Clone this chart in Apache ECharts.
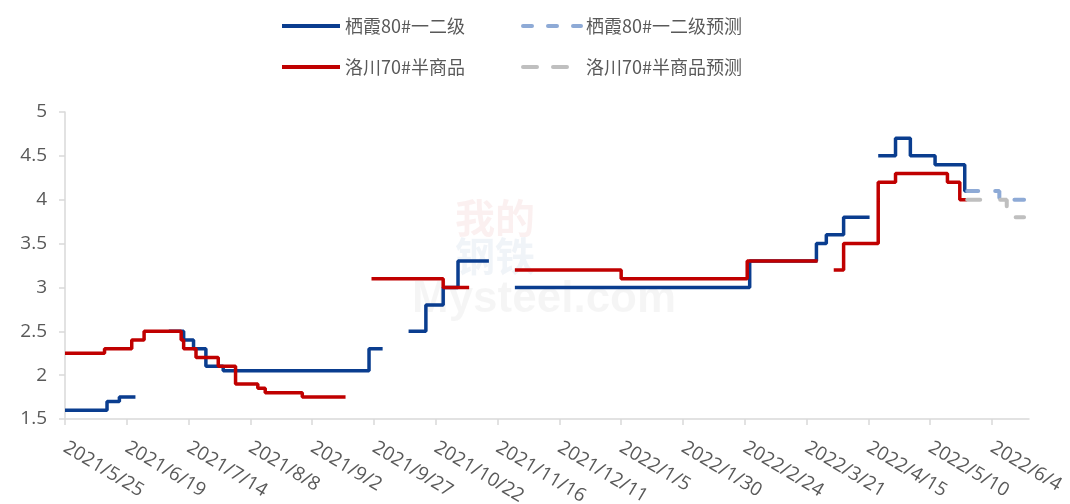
<!DOCTYPE html>
<html>
<head>
<meta charset="utf-8">
<script src="https://cdn.jsdelivr.net/npm/echarts@6/dist/echarts.min.js"></script>
<style>
html,body{margin:0;padding:0;background:#fff;}
#main{width:1070px;height:504px;}
</style>
</head>
<body>
<div id="main"></div>
<script>
// ---- data ----
const tickLabels = ['2021/5/25','2021/6/19','2021/7/14','2021/8/8','2021/9/2','2021/9/27','2021/10/22','2021/11/16','2021/12/11','2022/1/5','2022/1/30','2022/2/24','2022/3/21','2022/4/15','2022/5/10','2022/6/4'];
const axisStart = '2021/5/25';
const axisEnd = '2022/6/19';

// step series: [date, value] = value holds from that date; null = gap
const qixia = [
  ['2021/5/25',1.6],['2021/6/11',1.7],['2021/6/16',1.75],['2021/6/22',1.75], null,
  ['2021/7/6',2.5],['2021/7/12',2.4],['2021/7/16',2.3],['2021/7/21',2.1],['2021/7/28',2.05],['2021/9/25',2.3],['2021/9/30',2.3], null,
  ['2021/10/11',2.5],['2021/10/18',2.8],['2021/10/25',3.0],['2021/10/31',3.3],['2021/11/12',3.3], null,
  ['2021/11/23',3.0],['2022/2/26',3.3],['2022/3/25',3.5],['2022/3/29',3.6],['2022/4/5',3.8],['2022/4/15',3.8], null,
  ['2022/4/19',4.5],['2022/4/26',4.7],['2022/5/2',4.5],['2022/5/12',4.4],['2022/5/24',4.1],['2022/5/25',4.1]
];
const qixiaForecast = [['2022/5/25',4.1],['2022/6/7',4.0],['2022/6/17',4.0]];
const luochuan = [
  ['2021/5/25',2.25],['2021/6/10',2.3],['2021/6/21',2.4],['2021/6/26',2.5],['2021/7/11',2.4],['2021/7/12',2.3],['2021/7/17',2.2],['2021/7/26',2.1],['2021/8/2',1.9],['2021/8/11',1.85],['2021/8/14',1.8],['2021/8/29',1.75],['2021/9/15',1.75], null,
  ['2021/9/26',3.1],['2021/10/25',3.0],['2021/11/4',3.0], null,
  ['2021/11/23',3.2],['2022/1/5',3.1],['2022/2/25',3.3],['2022/3/25',3.3], null,
  ['2022/4/1',3.2],['2022/4/5',3.5],['2022/4/19',4.2],['2022/4/26',4.3],['2022/5/17',4.2],['2022/5/22',4.0],['2022/5/25',4.0]
];
const luochuanForecast = [['2022/5/25',4.0],['2022/6/10',3.8],['2022/6/17',3.8]];

const names = ['栖霞80#一二级','栖霞80#一二级预测','洛川70#半商品','洛川70#半商品预测'];
const yTicks = {min:1.5, max:5, interval:0.5};

// ---- helpers ----
function parse(s){ const p=s.split('/').map(Number); return Date.UTC(p[0],p[1]-1,p[2]); }
const t0 = parse(axisStart);
function toDay(s){ return Math.round((parse(s)-t0)/86400000); }
function fmt(day){ const d=new Date(t0+Math.round(day)*86400000); return d.getUTCFullYear()+'/'+(d.getUTCMonth()+1)+'/'+d.getUTCDate(); }
function build(arr){
  const out=[];
  arr.forEach((p,i)=>{
    if(p===null){ out.push([toDay(arr[i-1][0])+0.5,'-']); }
    else out.push([toDay(p[0]),p[1]]);
  });
  return out;
}
const tickDays = tickLabels.map(toDay);

const chart = echarts.init(document.getElementById('main'), null, {renderer:'canvas'});
const txt = '#595959';
const axisFont = '"Open Sans", "Liberation Sans", sans-serif';
function legendAt(name, left, top, line){
  return {data:[name], left:left, top:top, padding:0, itemWidth:58, itemHeight:14, itemGap:10,
    itemStyle:{opacity:0}, lineStyle:line,
    textStyle:{color:txt, fontSize:18, fontFamily:'"Noto Sans CJK SC", sans-serif'}};
}
chart.setOption({
  animation:false,
  backgroundColor:'#ffffff',
  legend:[
    legendAt(names[0], 280, 17, {width:4}),
    legendAt(names[1], 521, 17, {width:4, type:[9,16], cap:'round'}),
    legendAt(names[2], 280, 58, {width:4}),
    legendAt(names[3], 521, 58, {width:4, type:[14,16], cap:'round'})
  ],
  graphic:[
    {type:'text', left:455, top:198, style:{text:'我的', fontSize:40, fontWeight:'bold', fill:'rgba(192,0,0,0.06)', fontFamily:'"Noto Sans CJK SC"'}},
    {type:'text', left:455, top:236, style:{text:'钢铁', fontSize:40, fontWeight:'bold', fill:'rgba(0,61,143,0.06)', fontFamily:'"Noto Sans CJK SC"'}},
    {type:'text', left:412, top:278, style:{text:'Mysteel.com', fontSize:44, fontWeight:'bold', fill:'rgba(0,0,0,0.04)', fontFamily:'"Liberation Sans"'}}
  ],
  grid:{left:65, right:41, top:112, bottom:85, outerBoundsMode:'none'},
  xAxis:{
    type:'value', min:0, max:toDay(axisEnd),
    axisLine:{show:true, lineStyle:{color:'#d9d9d9', width:1.5}},
    axisTick:{show:true, length:6, lineStyle:{color:'#d9d9d9', width:1.5}, customValues:tickDays},
    axisLabel:{customValues:tickDays, rotate:-31, margin:27, color:txt, fontSize:19,
      fontFamily:axisFont, formatter:v=>fmt(v)},
    splitLine:{show:false}
  },
  yAxis:{
    type:'value', min:yTicks.min, max:yTicks.max, interval:yTicks.interval,
    axisLine:{show:true, lineStyle:{color:'#d9d9d9', width:1.5}},
    axisTick:{show:true, length:6, lineStyle:{color:'#d9d9d9', width:1.5}},
    axisLabel:{color:txt, fontSize:19, margin:18, fontFamily:axisFont},
    splitLine:{show:false}
  },
  series:[
    {name:names[0], type:'line', step:'end', symbol:'none', data:build(qixia),
      lineStyle:{color:'#0a3d8f', width:3.5}, itemStyle:{color:'#0a3d8f'}, z:2},
    {name:names[1], type:'line', step:'end', symbol:'none', data:build(qixiaForecast),
      lineStyle:{color:'#8eaad6', width:4, type:[11,17], cap:'round'}, itemStyle:{color:'#8eaad6'}, z:2},
    {name:names[2], type:'line', step:'end', symbol:'none', data:build(luochuan),
      lineStyle:{color:'#c00000', width:3.5}, itemStyle:{color:'#c00000'}, z:3},
    {name:names[3], type:'line', step:'end', symbol:'none', data:build(luochuanForecast),
      lineStyle:{color:'#bfbfbf', width:4, type:[13,20], cap:'round'}, itemStyle:{color:'#bfbfbf'}, z:3}
  ]
});
</script>
</body>
</html>
